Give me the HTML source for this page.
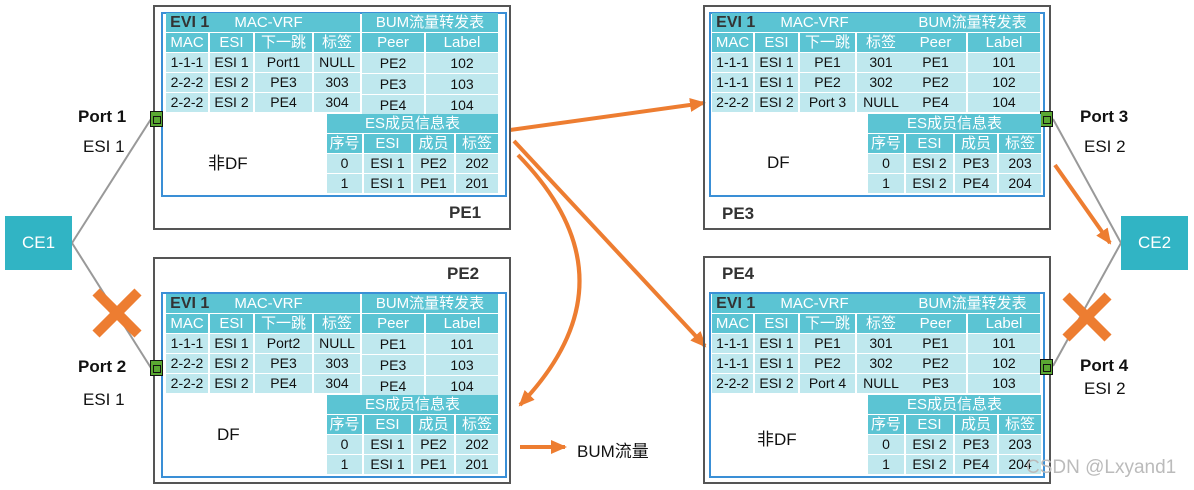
<!DOCTYPE html>
<html><head><meta charset="utf-8"><style>
body{margin:0;width:1194px;height:490px;background:#fff;position:relative;overflow:hidden;font-family:"Liberation Sans","Noto Sans CJK SC",sans-serif;}
.a{position:absolute}
.box{position:absolute;border:2px solid #555;box-sizing:border-box}
.in{position:absolute;border:2px solid #3a8fd6;box-sizing:border-box}
table{position:absolute;border-collapse:separate;border-spacing:2px 1px;table-layout:fixed;font-size:14px;margin:-1px -2px}
td{padding:0;height:19px;line-height:19px;text-align:center;white-space:nowrap;overflow:hidden;background:#bfe8ee;color:#111}
td.h{background:#5bc4d3;color:#fff;font-size:15px}
td.t{background:#5bc4d3;color:#fff;font-size:15px}
.evi{color:#333;font-weight:bold;font-size:16px}
.lbl{position:absolute;font-size:17px;font-weight:bold;color:#333}
.port{position:absolute;width:13px;height:16px;background:#5aa832;border:1px solid #111;box-sizing:border-box}
.port:after{content:"";position:absolute;left:2px;top:4px;width:6px;height:6px;border:1px solid #111}
.ce{position:absolute;width:67px;height:54px;background:#31b4c4;color:#fff;font-size:17px;text-align:center;line-height:54px}
.txt{position:absolute;font-size:17px;color:#111}
</style></head><body>

<svg class="a" style="left:0;top:0" width="1194" height="490">
<defs>
<marker id="ar2" markerWidth="16" markerHeight="14" refX="14" refY="7" orient="auto" markerUnits="userSpaceOnUse"><path d="M0,0 L16,7 L0,14 z" fill="#ed7d31"/></marker></defs>
<g stroke="#999" stroke-width="2" fill="none">
<line x1="72" y1="243" x2="151" y2="119"/>
<line x1="72" y1="243" x2="151" y2="368"/>
<line x1="1121" y1="243" x2="1053" y2="119"/>
<line x1="1121" y1="243" x2="1053" y2="366"/>
</g>
<g stroke="#ed7d31" stroke-width="4" fill="none">
<line x1="510" y1="130" x2="704" y2="103" marker-end="url(#ar2)"/>
<line x1="514" y1="141" x2="705" y2="346" marker-end="url(#ar2)"/>
<path d="M518,155 Q640,280 520,405" marker-end="url(#ar2)"/>
<line x1="520" y1="447" x2="565" y2="447" marker-end="url(#ar2)"/>
<line x1="1055" y1="165" x2="1110" y2="243" marker-end="url(#ar2)"/>
</g>
<g stroke="#ed7d31" stroke-width="10">
<line x1="96" y1="292" x2="138" y2="334"/><line x1="138" y1="292" x2="96" y2="334"/>
<line x1="1066" y1="296" x2="1108" y2="338"/><line x1="1108" y1="296" x2="1066" y2="338"/>
</g>
</svg>

<div class="ce" style="left:5px;top:216px">CE1</div>
<div class="ce" style="left:1121px;top:216px">CE2</div>
<div class="lbl" style="left:78px;top:107px;color:#111">Port 1</div>
<div class="txt" style="left:83px;top:137px">ESI 1</div>
<div class="lbl" style="left:78px;top:357px;color:#111">Port 2</div>
<div class="txt" style="left:83px;top:390px">ESI 1</div>
<div class="lbl" style="left:1080px;top:107px;color:#111">Port 3</div>
<div class="txt" style="left:1084px;top:137px">ESI 2</div>
<div class="lbl" style="left:1080px;top:356px;color:#111">Port 4</div>
<div class="txt" style="left:1084px;top:379px">ESI 2</div>
<div class="txt" style="left:577px;top:437px">BUM流量</div>

<!-- PE1 -->
<div class="box" style="left:153px;top:5px;width:358px;height:225px"></div>
<div class="in" style="left:161px;top:12px;width:346px;height:185px"></div>
<div class="port" style="left:150px;top:111px"></div>
<div class="lbl" style="left:449px;top:203px">PE1</div>
<div class="txt" style="left:208px;top:149px">非DF</div>
<table style="left:166px;top:13px;width:196px"><colgroup><col style="width:42px"><col style="width:43px"><col style="width:57px"><col style="width:46px"></colgroup>
<tr><td class="t" colspan="4" style="text-align:left">&nbsp;<span class="evi">EVI 1</span>&nbsp;&nbsp;&nbsp;&nbsp;&nbsp;&nbsp;MAC-VRF</td></tr>
<tr><td class="h">MAC</td><td class="h">ESI</td><td class="h">下一跳</td><td class="h">标签</td></tr>
<tr><td>1-1-1</td><td>ESI 1</td><td>Port1</td><td>NULL</td></tr>
<tr><td>2-2-2</td><td>ESI 2</td><td>PE3</td><td>303</td></tr>
<tr><td>2-2-2</td><td>ESI 2</td><td>PE4</td><td>304</td></tr></table>
<table style="left:362px;top:13px;width:140px"><colgroup><col style="width:62px"><col style="width:72px"></colgroup>
<tr><td class="t" colspan="2">BUM流量转发表</td></tr>
<tr><td class="h">Peer</td><td class="h">Label</td></tr>
<tr><td style="height:20px">PE2</td><td>102</td></tr>
<tr><td style="height:20px">PE3</td><td>103</td></tr>
<tr><td style="height:20px">PE4</td><td>104</td></tr></table>
<table style="left:327px;top:114px;width:173px"><colgroup><col style="width:35px"><col style="width:47px"><col style="width:41px"><col style="width:42px"></colgroup>
<tr><td class="t" colspan="4">ES成员信息表</td></tr>
<tr><td class="h">序号</td><td class="h">ESI</td><td class="h">成员</td><td class="h">标签</td></tr>
<tr><td>0</td><td>ESI 1</td><td>PE2</td><td>202</td></tr>
<tr><td>1</td><td>ESI 1</td><td>PE1</td><td>201</td></tr></table>

<!-- PE2 -->
<div class="box" style="left:153px;top:257px;width:358px;height:227px"></div>
<div class="in" style="left:161px;top:292px;width:346px;height:186px"></div>
<div class="port" style="left:150px;top:360px"></div>
<div class="lbl" style="left:447px;top:264px">PE2</div>
<div class="txt" style="left:217px;top:425px">DF</div>
<table style="left:166px;top:294px;width:196px"><colgroup><col style="width:42px"><col style="width:43px"><col style="width:57px"><col style="width:46px"></colgroup>
<tr><td class="t" colspan="4" style="text-align:left">&nbsp;<span class="evi">EVI 1</span>&nbsp;&nbsp;&nbsp;&nbsp;&nbsp;&nbsp;MAC-VRF</td></tr>
<tr><td class="h">MAC</td><td class="h">ESI</td><td class="h">下一跳</td><td class="h">标签</td></tr>
<tr><td>1-1-1</td><td>ESI 1</td><td>Port2</td><td>NULL</td></tr>
<tr><td>2-2-2</td><td>ESI 2</td><td>PE3</td><td>303</td></tr>
<tr><td>2-2-2</td><td>ESI 2</td><td>PE4</td><td>304</td></tr></table>
<table style="left:362px;top:294px;width:140px"><colgroup><col style="width:62px"><col style="width:72px"></colgroup>
<tr><td class="t" colspan="2">BUM流量转发表</td></tr>
<tr><td class="h">Peer</td><td class="h">Label</td></tr>
<tr><td style="height:20px">PE1</td><td>101</td></tr>
<tr><td style="height:20px">PE3</td><td>103</td></tr>
<tr><td style="height:20px">PE4</td><td>104</td></tr></table>
<table style="left:327px;top:395px;width:173px"><colgroup><col style="width:35px"><col style="width:47px"><col style="width:41px"><col style="width:42px"></colgroup>
<tr><td class="t" colspan="4">ES成员信息表</td></tr>
<tr><td class="h">序号</td><td class="h">ESI</td><td class="h">成员</td><td class="h">标签</td></tr>
<tr><td>0</td><td>ESI 1</td><td>PE2</td><td>202</td></tr>
<tr><td>1</td><td>ESI 1</td><td>PE1</td><td>201</td></tr></table>

<!-- PE3 -->
<div class="box" style="left:703px;top:5px;width:348px;height:225px"></div>
<div class="in" style="left:709px;top:12px;width:336px;height:185px"></div>
<div class="port" style="left:1040px;top:111px"></div>
<div class="lbl" style="left:722px;top:204px">PE3</div>
<div class="txt" style="left:767px;top:153px">DF</div>
<table style="left:712px;top:13px;width:195px"><colgroup><col style="width:41px"><col style="width:43px"><col style="width:55px"><col style="width:48px"></colgroup>
<tr><td class="t" colspan="4" style="text-align:left">&nbsp;<span class="evi">EVI 1</span>&nbsp;&nbsp;&nbsp;&nbsp;&nbsp;&nbsp;MAC-VRF</td></tr>
<tr><td class="h">MAC</td><td class="h">ESI</td><td class="h">下一跳</td><td class="h">标签</td></tr>
<tr><td>1-1-1</td><td>ESI 1</td><td>PE1</td><td>301</td></tr>
<tr><td>1-1-1</td><td>ESI 1</td><td>PE2</td><td>302</td></tr>
<tr><td>2-2-2</td><td>ESI 2</td><td>Port 3</td><td>NULL</td></tr></table>
<table style="left:905px;top:13px;width:139px"><colgroup><col style="width:61px"><col style="width:72px"></colgroup>
<tr><td class="t" colspan="2">BUM流量转发表</td></tr>
<tr><td class="h">Peer</td><td class="h">Label</td></tr>
<tr><td>PE1</td><td>101</td></tr>
<tr><td>PE2</td><td>102</td></tr>
<tr><td>PE4</td><td>104</td></tr></table>
<table style="left:868px;top:114px;width:173px"><colgroup><col style="width:36px"><col style="width:47px"><col style="width:42px"><col style="width:42px"></colgroup>
<tr><td class="t" colspan="4">ES成员信息表</td></tr>
<tr><td class="h">序号</td><td class="h">ESI</td><td class="h">成员</td><td class="h">标签</td></tr>
<tr><td>0</td><td>ESI 2</td><td>PE3</td><td>203</td></tr>
<tr><td>1</td><td>ESI 2</td><td>PE4</td><td>204</td></tr></table>

<!-- PE4 -->
<div class="box" style="left:703px;top:256px;width:348px;height:228px"></div>
<div class="in" style="left:709px;top:292px;width:336px;height:186px"></div>
<div class="port" style="left:1040px;top:359px"></div>
<div class="lbl" style="left:722px;top:264px">PE4</div>
<div class="txt" style="left:757px;top:425px">非DF</div>
<table style="left:712px;top:294px;width:195px"><colgroup><col style="width:41px"><col style="width:43px"><col style="width:55px"><col style="width:48px"></colgroup>
<tr><td class="t" colspan="4" style="text-align:left">&nbsp;<span class="evi">EVI 1</span>&nbsp;&nbsp;&nbsp;&nbsp;&nbsp;&nbsp;MAC-VRF</td></tr>
<tr><td class="h">MAC</td><td class="h">ESI</td><td class="h">下一跳</td><td class="h">标签</td></tr>
<tr><td>1-1-1</td><td>ESI 1</td><td>PE1</td><td>301</td></tr>
<tr><td>1-1-1</td><td>ESI 1</td><td>PE2</td><td>302</td></tr>
<tr><td>2-2-2</td><td>ESI 2</td><td>Port 4</td><td>NULL</td></tr></table>
<table style="left:905px;top:294px;width:139px"><colgroup><col style="width:61px"><col style="width:72px"></colgroup>
<tr><td class="t" colspan="2">BUM流量转发表</td></tr>
<tr><td class="h">Peer</td><td class="h">Label</td></tr>
<tr><td>PE1</td><td>101</td></tr>
<tr><td>PE2</td><td>102</td></tr>
<tr><td>PE3</td><td>103</td></tr></table>
<table style="left:868px;top:395px;width:173px"><colgroup><col style="width:36px"><col style="width:47px"><col style="width:42px"><col style="width:42px"></colgroup>
<tr><td class="t" colspan="4">ES成员信息表</td></tr>
<tr><td class="h">序号</td><td class="h">ESI</td><td class="h">成员</td><td class="h">标签</td></tr>
<tr><td>0</td><td>ESI 2</td><td>PE3</td><td>203</td></tr>
<tr><td>1</td><td>ESI 2</td><td>PE4</td><td>204</td></tr></table>

<div class="a" style="left:1026px;top:457px;font-size:19px;color:#bbb">CSDN @Lxyand1</div>
</body></html>
